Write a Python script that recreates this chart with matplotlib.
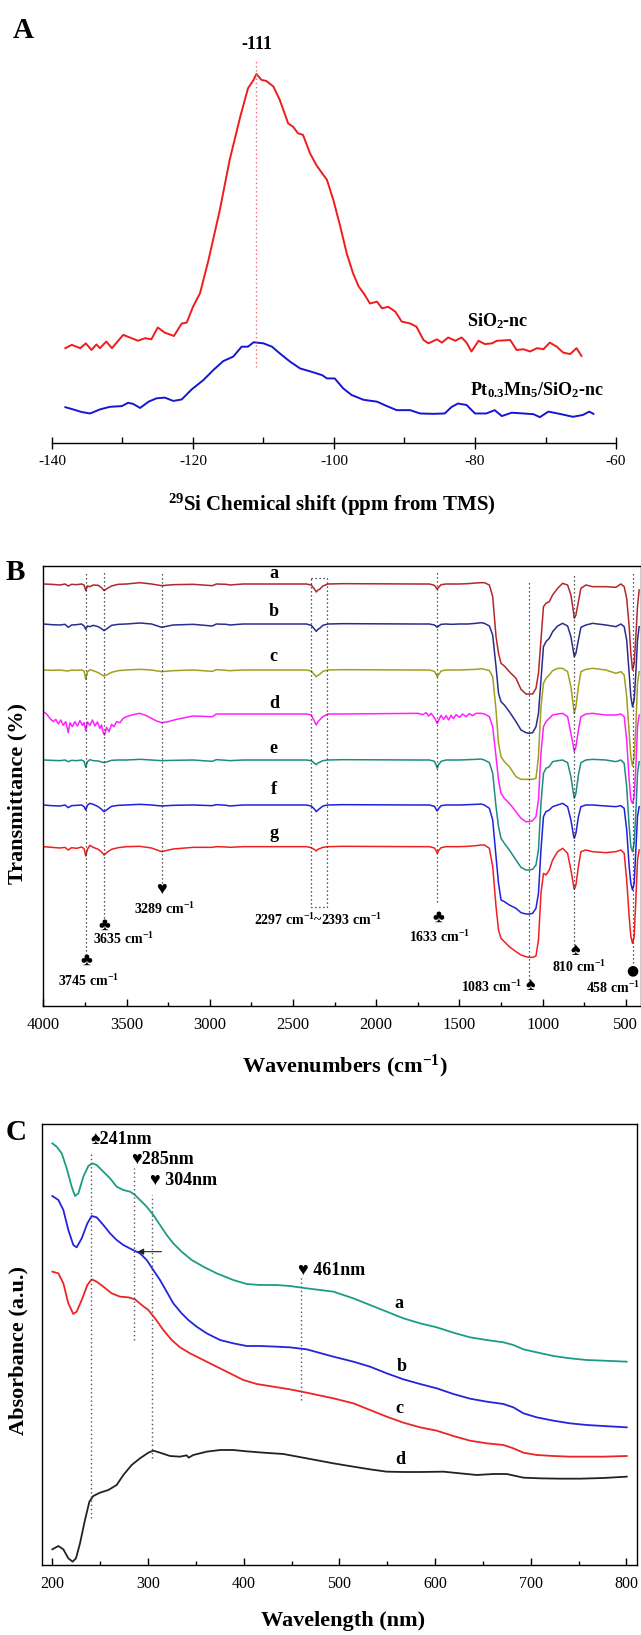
import matplotlib.pyplot as plt
from matplotlib.ticker import MultipleLocator

plt.rcParams['font.family'] = ['Liberation Serif', 'DejaVu Sans']
plt.rcParams['mathtext.fontset'] = 'custom'
plt.rcParams['mathtext.rm'] = 'Liberation Serif:bold'
plt.rcParams['mathtext.it'] = 'Liberation Serif:italic:bold'
plt.rcParams['mathtext.bf'] = 'Liberation Serif:bold'
plt.rcParams['axes.unicode_minus'] = False

# ---- panel A: 29Si NMR ----
nmr_red_ppm = [-138.1, -137.2, -136.0, -135.2, -134.4, -133.7, -133.2, -132.3, -131.5, -129.9,
               -128.7, -127.8, -126.8, -125.9, -125.0, -124.0, -122.7, -121.6, -120.9, -120.0,
               -119.0, -117.8, -116.2, -114.8, -113.3, -112.2, -111.4, -111.0, -110.3, -109.6,
               -108.6, -107.7, -106.5, -105.8, -105.1, -104.4, -103.4, -102.5, -101.5,
               -101.0, -100.1, -99.1, -98.2, -97.3, -96.5, -95.8, -94.9, -93.9, -93.2,
               -92.3, -91.3, -90.4, -89.2, -88.3, -87.3, -86.6, -85.4, -84.7, -83.8,
               -82.8, -81.9, -81.2, -80.5, -79.5, -78.6, -77.6, -76.9, -75.0, -74.1,
               -73.1, -72.2, -71.2, -70.3, -69.4, -68.4, -67.5, -66.5, -65.6, -64.9]
nmr_red = [25.7, 26.6, 25.7, 27.0, 25.2, 26.7, 25.7, 27.5, 25.7, 29.3,
           28.4, 27.7, 28.4, 28.1, 31.3, 29.9, 29.0, 32.4, 32.6, 36.9,
           40.6, 49.6, 63.1, 76.7, 88.4, 96.1, 98.4, 100.0, 98.4, 98.1,
           96.6, 93.0, 86.6, 85.7, 83.9, 83.5, 78.5, 75.3, 72.6,
           71.3, 65.9, 58.6, 51.4, 46.0, 42.4, 40.6, 37.8, 38.3, 36.5,
           36.9, 35.6, 32.9, 32.4, 31.5, 27.9, 27.0, 28.1, 27.2, 28.6,
           27.7, 28.6, 27.2, 24.8, 27.7, 26.8, 27.0, 27.7, 27.9, 25.2,
           25.4, 24.8, 25.7, 25.4, 27.2, 26.1, 24.5, 24.1, 25.7, 23.6]
nmr_blue_ppm = [-138.1, -137.0, -135.8, -134.6, -133.2, -131.8, -130.1, -129.2, -128.5, -127.5,
                -126.3, -125.2, -124.0, -122.8, -121.6, -120.2, -118.5, -117.1, -115.7, -114.3,
                -113.1, -112.2, -111.4, -110.0, -108.8, -107.7, -106.2, -104.8, -103.2, -101.7,
                -101.0, -99.9, -98.7, -97.5, -95.8, -93.9, -92.5, -91.1, -89.2, -87.8,
                -85.9, -84.3, -83.3, -82.4, -81.2, -80.0, -78.4, -77.2, -76.2, -74.8,
                -73.1, -71.7, -70.8, -69.6, -68.0, -66.1, -64.7, -63.8, -63.2]
nmr_blue = [9.7, 9.1, 8.4, 8.0, 9.1, 9.8, 10.0, 10.9, 10.6, 9.5,
            11.2, 12.1, 12.3, 11.4, 11.8, 14.5, 17.1, 19.8, 22.2, 23.4,
            26.1, 26.1, 27.3, 27.0, 26.1, 24.3, 22.0, 20.2, 19.3, 18.4,
            17.5, 17.5, 14.8, 13.0, 11.7, 11.2, 10.0, 8.9, 8.9, 8.0,
            7.9, 8.0, 9.8, 10.7, 10.3, 8.0, 8.0, 8.9, 7.3, 8.2,
            8.0, 7.8, 7.0, 8.5, 7.9, 7.1, 7.6, 8.5, 7.9]

# ---- panel B: FTIR (a.u., curves already stacked) ----
ir_wn_hi = [4000, 3950, 3900, 3870, 3850, 3830, 3800, 3770, 3755, 3745,
            3735, 3720, 3700, 3670, 3650, 3635, 3615, 3590, 3550, 3500,
            3420, 3350, 3289, 3220, 3100, 2985, 2960, 2900, 2880, 2800,
            2420, 2390, 2370, 2360, 2350, 2340, 2320, 2290, 2200, 1750,
            1680, 1650, 1640, 1633, 1625, 1610, 1580, 1550, 1500, 1450,
            1400, 1370]
ir_wn_fp = [1350, 1320, 1300, 1280, 1265, 1250, 1230, 1200, 1160, 1130,
            1100, 1080, 1060, 1040, 1025, 1010, 995, 980, 960, 940,
            910, 880, 850, 830, 815, 810, 800, 785, 770, 740,
            700, 620, 560, 530, 510, 495, 480, 470, 460, 450,
            440, 430, 420]
# curve d is noisier, so it gets a finer grid above 1350 cm-1
ir_d_wn_hi = [4000, 3980, 3960, 3940, 3925, 3910, 3895, 3880, 3865, 3850,
              3840, 3825, 3810, 3795, 3780, 3765, 3755, 3745, 3735, 3720,
              3705, 3690, 3675, 3660, 3650, 3640, 3632, 3620, 3605, 3590,
              3575, 3560, 3540, 3520, 3500, 3460, 3420, 3380, 3350, 3320,
              3289, 3250, 3200, 3100, 2985, 2960, 2900, 2800, 2420, 2390,
              2370, 2360, 2350, 2340, 2320, 2290, 2200, 1750, 1720, 1700,
              1685, 1670, 1655, 1645, 1633, 1622, 1610, 1595, 1580, 1565,
              1550, 1535, 1520, 1500, 1480, 1460, 1440, 1420, 1400, 1370]

ir_a_hi = [126.6, 126.5, 126.3, 126.6, 126.0, 126.5, 126.4, 126.6, 126.3, 124.6,
           126.0, 125.8, 126.3, 126.2, 125.5, 124.6, 125.3, 126.0, 126.5, 126.6,
           127.0, 126.6, 126.1, 126.4, 126.5, 126.1, 126.6, 126.5, 126.3, 126.6,
           126.6, 126.3, 125.0, 124.2, 124.8, 125.0, 126.0, 126.6, 126.7, 126.6,
           126.6, 126.2, 125.5, 125.0, 125.6, 126.4, 126.6, 126.6, 126.6, 126.7,
           126.9, 127.0]
ir_a_fp = [127.0, 126.3, 122.8, 110.8, 105.8, 102.8, 102.0, 100.3, 98.3, 95.0,
           93.6, 93.6, 93.6, 95.3, 99.8, 109.8, 119.8, 120.8, 121.3, 123.3,
           125.3, 126.8, 126.3, 123.3, 118.3, 116.3, 117.3, 121.3, 125.3, 126.3,
           125.8, 125.8, 125.6, 126.6, 125.8, 122.3, 113.8, 105.8, 100.8, 102.8,
           110.8, 119.8, 124.8]
ir_b_hi = [114.6, 114.4, 114.3, 114.5, 113.6, 114.3, 114.4, 114.6, 114.0, 113.0,
           114.0, 113.8, 114.2, 113.8, 113.2, 112.6, 113.3, 114.2, 114.5, 114.6,
           114.9, 114.6, 113.6, 114.3, 114.5, 114.0, 114.6, 114.5, 114.3, 114.6,
           114.6, 114.2, 113.0, 112.4, 113.0, 113.3, 114.2, 114.6, 114.7, 114.6,
           114.6, 114.3, 113.9, 113.6, 114.0, 114.5, 114.6, 114.5, 114.6, 114.6,
           114.8, 115.0]
ir_b_fp = [114.8, 114.0, 111.3, 101.8, 93.8, 91.3, 90.3, 88.3, 85.3, 82.8,
           82.0, 81.8, 82.0, 83.8, 87.8, 97.8, 107.8, 109.3, 110.3, 112.3,
           114.0, 114.8, 114.0, 110.8, 106.3, 104.8, 105.8, 109.8, 113.6, 114.3,
           114.8, 114.3, 113.8, 114.6, 113.8, 109.8, 99.8, 92.8, 89.8, 91.8,
           99.8, 109.8, 113.8]
ir_c_hi = [100.8, 100.7, 100.8, 100.6, 100.5, 100.8, 100.7, 100.8, 100.5, 98.0,
           100.2, 100.9, 100.6, 100.0, 99.4, 99.0, 99.4, 100.1, 100.6, 100.8,
           101.0, 100.8, 100.3, 100.6, 100.8, 100.4, 100.9, 100.7, 100.6, 100.8,
           100.8, 100.5, 99.3, 98.8, 99.2, 99.5, 100.4, 100.8, 100.9, 100.8,
           100.8, 100.4, 99.5, 98.8, 99.4, 100.5, 100.8, 100.8, 100.8, 100.9,
           101.0, 101.2]
ir_c_fp = [101.0, 100.6, 98.8, 88.8, 78.8, 74.8, 73.3, 71.8, 68.8, 68.0,
           68.0, 68.0, 68.0, 68.3, 74.8, 89.8, 96.8, 98.3, 99.3, 100.6,
           101.3, 101.3, 100.3, 95.8, 89.8, 87.8, 89.8, 95.8, 100.3, 101.0,
           101.3, 100.8, 99.8, 100.3, 99.3, 92.8, 81.8, 74.8, 72.0, 74.8,
           83.8, 96.8, 100.3]
ir_d_hi = [88.3, 87.6, 86.3, 85.3, 86.0, 84.6, 85.8, 84.2, 85.3, 82.0,
           85.0, 83.8, 85.3, 84.0, 85.6, 84.2, 85.0, 82.6, 85.2, 84.2,
           85.8, 84.0, 85.2, 83.3, 84.3, 82.0, 81.3, 83.6, 82.3, 84.5,
           83.8, 85.3, 85.0, 86.3, 86.8, 87.4, 87.8, 87.1, 86.3, 85.5,
           85.0, 85.3, 86.0, 87.0, 86.8, 87.6, 87.6, 87.6, 87.6, 87.3,
           85.3, 84.3, 85.3, 85.8, 86.8, 87.6, 87.6, 87.8, 87.4, 88.0,
           87.0, 87.8, 86.8, 86.0, 84.8, 86.0, 87.2, 86.0, 87.1, 85.8,
           87.2, 86.2, 87.4, 86.6, 87.6, 86.8, 87.7, 87.1, 87.8, 87.8]
ir_d_fp = [87.6, 86.8, 83.8, 74.8, 67.8, 63.8, 62.3, 60.8, 58.3, 56.3,
           55.3, 55.3, 55.6, 56.8, 61.8, 75.8, 83.8, 85.3, 86.3, 87.3,
           87.6, 87.8, 86.8, 81.8, 77.8, 76.3, 77.8, 82.8, 86.8, 87.6,
           87.8, 87.3, 87.3, 87.6, 86.8, 79.8, 67.8, 61.8, 60.8, 62.8,
           71.8, 83.8, 87.3]
ir_e_hi = [73.8, 73.7, 73.6, 73.8, 73.3, 73.7, 73.6, 73.8, 73.4, 71.6,
           73.3, 73.9, 73.6, 73.5, 73.2, 73.0, 73.3, 73.7, 73.8, 73.8,
           74.0, 73.8, 73.6, 73.7, 73.8, 73.4, 73.9, 73.7, 73.6, 73.8,
           73.8, 73.6, 72.8, 72.4, 72.9, 73.1, 73.6, 73.8, 73.9, 73.8,
           73.8, 73.4, 72.3, 71.3, 72.4, 73.4, 73.8, 73.8, 73.8, 73.9,
           74.0, 74.1]
ir_e_fp = [73.8, 73.0, 69.8, 59.8, 53.8, 50.3, 48.8, 46.8, 43.8, 41.6,
           40.8, 40.8, 41.0, 42.3, 46.8, 60.8, 69.8, 71.3, 71.8, 73.3,
           73.6, 73.8, 73.0, 68.8, 63.8, 62.3, 63.8, 69.3, 73.0, 73.8,
           74.0, 73.8, 73.3, 73.8, 72.8, 65.8, 53.8, 47.8, 46.3, 48.8,
           57.8, 69.8, 73.3]
ir_f_hi = [60.3, 60.1, 60.0, 60.3, 59.5, 60.1, 60.2, 60.3, 59.8, 58.8,
           60.2, 60.8, 60.5, 59.8, 59.0, 58.3, 59.0, 59.9, 60.2, 60.3,
           60.5, 60.3, 60.0, 60.2, 60.3, 60.1, 60.4, 60.2, 60.0, 60.3,
           60.3, 60.0, 59.0, 58.3, 58.8, 59.2, 60.0, 60.3, 60.4, 60.3,
           60.3, 59.9, 59.0, 58.5, 59.2, 60.1, 60.3, 60.3, 60.3, 60.4,
           60.5, 60.6]
ir_f_fp = [60.3, 59.3, 55.8, 44.8, 36.8, 31.8, 31.3, 30.3, 29.3, 28.0,
           27.6, 27.6, 27.8, 29.3, 33.8, 46.8, 56.8, 58.3, 58.8, 59.8,
           60.3, 60.8, 59.8, 55.8, 51.3, 50.3, 51.8, 56.8, 59.8, 60.3,
           60.3, 60.0, 59.8, 60.1, 59.3, 52.8, 41.8, 36.8, 34.8, 36.8,
           46.8, 56.8, 59.8]
ir_g_hi = [47.8, 47.6, 47.4, 47.6, 46.8, 47.5, 47.3, 47.7, 47.2, 45.0,
           47.0, 48.2, 47.6, 47.0, 46.2, 45.3, 46.2, 47.0, 47.5, 47.8,
           47.9, 47.4, 46.3, 47.1, 47.6, 47.6, 47.8, 47.7, 47.6, 47.8,
           47.8, 47.5, 46.9, 46.5, 47.0, 47.2, 47.6, 47.8, 47.9, 47.8,
           47.8, 47.4, 46.6, 45.8, 46.6, 47.5, 47.8, 47.8, 47.8, 47.9,
           48.1, 48.3]
ir_g_fp = [48.3, 47.3, 41.8, 29.8, 22.8, 20.3, 19.3, 17.8, 16.3, 15.3,
           14.8, 14.6, 14.6, 15.0, 19.8, 33.8, 39.8, 39.3, 40.8, 43.8,
           46.3, 47.3, 45.8, 40.8, 36.3, 35.0, 36.3, 41.8, 46.3, 46.8,
           46.3, 46.0, 46.3, 46.8, 45.8, 37.8, 26.8, 20.8, 18.8, 20.8,
           31.8, 43.8, 46.8]
ir_names = ['a', 'b', 'c', 'd', 'e', 'f', 'g']
ir_colors = ['#b0282c', '#2b2b90', '#a0a020', '#ff20ff', '#1e8c80', '#2020e0', '#f02020']
ir_label_y = [129.8, 118.3, 104.8, 90.8, 77.3, 64.8, 51.8]

# ---- panel C: UV-vis ----
uv_a_wl = [200, 204.5, 209.8, 215, 220.2, 223.7, 227.2, 232.4, 237.6, 241.8,
           246.3, 253.3, 260.3, 267.2, 274.2, 281.2, 286.4, 291.6, 298.6, 305.5,
           312.5, 319.5, 326.4, 335.1, 345.6, 357.8, 371.7, 389.1, 403.1, 417.0,
           434.4, 448.3, 465.8, 493.7, 514.6, 532.0, 549.5, 566.9, 584.3, 601.7,
           619.1, 636.5, 654.0, 671.4, 681.8, 692.3, 706.2, 723.6, 741.0, 758.5,
           775.9, 800.3]
uv_a = [126.5, 125.5, 123.5, 119.0, 113.5, 110.7, 111.5, 116.5, 119.7, 120.5,
        120.0, 118.0, 116.0, 113.5, 112.5, 112.0, 111.0, 109.5, 107.5, 105.0,
        102.0, 99.0, 96.5, 94.0, 91.5, 89.5, 87.5, 85.5, 84.3, 84.0,
        84.0, 83.7, 83.0, 82.0, 80.0, 78.0, 76.0, 74.0, 72.5, 71.3,
        69.7, 68.3, 67.5, 66.8, 66.0, 64.7, 63.8, 62.7, 62.0, 61.5,
        61.3, 61.0]
uv_b_wl = [200, 206.3, 211.5, 216.7, 221.9, 225.4, 230.7, 236.6, 241.1, 246.3,
           253.3, 260.3, 267.2, 274.2, 282.9, 291.6, 298.6, 305.5, 312.5, 319.5,
           326.4, 335.1, 342.1, 350.8, 361.3, 375.2, 389.1, 403.1, 417.0, 434.4,
           448.3, 465.8, 493.7, 514.6, 532.0, 549.5, 566.9, 584.3, 601.7, 619.1,
           636.5, 654.0, 671.4, 681.8, 692.3, 706.2, 723.6, 741.0, 758.5, 775.9,
           800.3]
uv_b = [110.7, 109.5, 106.5, 100.5, 96.0, 95.3, 98.0, 102.5, 104.7, 104.3,
        102.0, 99.5, 97.5, 96.0, 94.7, 93.5, 91.5, 88.5, 85.5, 82.0,
        78.5, 75.5, 73.5, 71.5, 69.5, 67.5, 66.5, 65.7, 65.7, 65.5,
        65.3, 64.7, 62.5, 61.0, 59.5, 57.5, 55.7, 54.3, 53.0, 51.3,
        49.9, 49.0, 48.3, 47.3, 45.5, 44.3, 43.3, 42.5, 42.0, 41.7,
        41.3]
uv_c_wl = [200, 206.3, 211.5, 216.7, 221.9, 225.4, 230.7, 236.6, 241.1, 246.3,
           253.3, 262.0, 270.7, 279.4, 286.4, 293.3, 300.3, 307.3, 316.0, 324.7,
           333.4, 343.9, 357.8, 371.7, 385.7, 399.6, 413.5, 430.9, 448.3, 465.8,
           493.7, 514.6, 532.0, 549.5, 566.9, 584.3, 601.7, 619.1, 636.5, 654.0,
           671.4, 681.8, 692.3, 706.2, 723.6, 741.0, 758.5, 775.9, 800.3]
uv_c = [88.0, 87.5, 84.5, 78.5, 75.3, 76.0, 79.5, 84.0, 85.7, 85.0,
        83.5, 81.5, 80.5, 80.3, 79.7, 78.0, 76.5, 74.0, 70.5, 67.5,
        65.3, 63.5, 61.5, 59.5, 57.5, 55.5, 54.3, 53.5, 52.7, 51.7,
        50.0, 48.5, 46.5, 44.5, 42.7, 41.3, 40.3, 38.7, 37.3, 36.5,
        36.0, 35.0, 33.7, 33.0, 32.7, 32.5, 32.5, 32.5, 32.7]
uv_d_wl = [200, 206.3, 211.5, 216.7, 221.2, 224.7, 228.9, 234.1, 238.7, 242.8,
           249.8, 258.5, 267.2, 274.2, 282.9, 291.6, 300.3, 305.5, 312.5, 323.0,
           333.4, 340.4, 342.5, 347.3, 361.3, 375.2, 389.1, 403.1, 420.5, 441.4,
           465.8, 493.7, 514.6, 532.0, 549.5, 566.9, 584.3, 608.7, 626.1, 643.5,
           660.9, 674.9, 692.3, 709.7, 730.6, 751.5, 775.9, 800.3]
uv_d = [4.7, 5.7, 4.7, 2.0, 1.0, 2.0, 6.5, 13.5, 19.0, 20.7,
        21.7, 22.5, 24.0, 27.0, 30.0, 32.0, 33.7, 34.3, 33.7, 32.7,
        32.5, 32.9, 32.2, 33.0, 34.0, 34.5, 34.5, 34.1, 33.7, 33.3,
        32.0, 30.5, 29.5, 28.7, 28.0, 27.9, 27.9, 28.0, 27.5, 27.0,
        27.3, 27.3, 26.2, 26.0, 25.9, 25.9, 26.1, 26.5]
uv_colors = ['#1a9c86', '#2424dc', '#ee2424', '#222222']
uv_names = ['a', 'b', 'c', 'd']
uv_label_pos = [(562, 78.5), (565, 59.5), (563, 47.0), (564, 31.7)]

W, H = 641, 1635
fig = plt.figure(figsize=(W / 100, H / 100), dpi=100)


def rect(x0, y0, x1, y1):
    # pixel box (top-left origin) -> figure fraction
    return [x0 / W, 1 - y1 / H, (x1 - x0) / W, (y1 - y0) / H]


def ftext(x, y, s, **kw):
    fig.text(x / W, 1 - y / H, s, ha='center', va='center', **kw)


# ================= A =================
axA = fig.add_axes(rect(52, 40, 616, 443))
axA.plot(nmr_red_ppm, nmr_red, color='#f01c1c', lw=1.4)
axA.plot(nmr_blue_ppm, nmr_blue, color='#1616d2', lw=1.4)
axA.plot([-111, -111], [20.6, 103.8], color='#e8707a', lw=1.0, ls=(0, (1, 2)))
axA.text(-111, 107.9, '-111', ha='center', va='center', fontsize=13, fontweight='bold', clip_on=False)
axA.text(-81.2, 32.9, 'SiO$_2$-nc', ha='left', va='center', fontsize=13, fontweight='bold')
axA.text(-80.7, 14.4, 'Pt$_{0.3}$Mn$_5$/SiO$_2$-nc', ha='left', va='center', fontsize=13, fontweight='bold')
axA.set_xlim(-140, -60)
axA.set_ylim(0, 109.2)
for s in ['left', 'right', 'top']:
    axA.spines[s].set_visible(False)
axA.spines['bottom'].set_linewidth(1.0)
axA.set_yticks([])
axA.set_xticks([-140, -120, -100, -80, -60])
axA.xaxis.set_minor_locator(MultipleLocator(10))
axA.tick_params(axis='x', which='major', direction='inout', length=9, width=1, labelsize=11, pad=4)
axA.tick_params(axis='x', which='minor', direction='in', length=4, width=1)
ftext(332, 505, '$^{29}$Si Chemical shift (ppm from TMS)', fontsize=15, fontweight='bold')
ftext(23, 30, 'A', fontsize=21, fontweight='bold')

# ================= B =================
axB = fig.add_axes(rect(43.3, 566, 640.5, 1006))
ir_x = [ir_wn_hi + ir_wn_fp] * 3 + [ir_d_wn_hi + ir_wn_fp] + [ir_wn_hi + ir_wn_fp] * 3
ir_curves = [ir_a_hi + ir_a_fp, ir_b_hi + ir_b_fp, ir_c_hi + ir_c_fp, ir_d_hi + ir_d_fp,
             ir_e_hi + ir_e_fp, ir_f_hi + ir_f_fp, ir_g_hi + ir_g_fp]
for name, col, xs, ys, ly in zip(ir_names, ir_colors, ir_x, ir_curves, ir_label_y):
    axB.plot(xs, ys, color=col, lw=1.1)
    axB.text(2615, ly, name, ha='center', va='center', fontsize=13, fontweight='bold')

dots = dict(color='#222222', lw=0.9, ls=(0, (1, 2.2)))
for x, y0, y1 in [(3745, 15.3, 130.3), (3635, 26.3, 130.3), (3289, 36.8, 130.3),
                  (1633, 31.3, 130.3), (1083, 7.8, 127.3), (810, 18.3, 129.8), (458, 12.8, 129.8)]:
    axB.plot([x, x], [y0, y1], **dots)
axB.plot([2393, 2297, 2297, 2393, 2393], [128.3, 128.3, 29.8, 29.8, 128.3], **dots)

akw = dict(ha='center', va='center', fontsize=10, fontweight='bold')
skw = dict(ha='center', va='center', fontsize=13)
axB.text(3289, 35.0, '\u2665', **skw)
axB.text(3270, 29.0, '3289 cm$^{-1}$', **akw)
axB.text(3630, 24.3, '\u2663', **skw)
axB.text(3520, 20.0, '3635 cm$^{-1}$', **akw)
axB.text(3744, 13.6, '\u2663', **skw)
axB.text(3730, 7.6, '3745 cm$^{-1}$', **akw)
axB.text(2349, 25.8, '2297 cm$^{-1}$~2393 cm$^{-1}$', **akw)
axB.text(1625, 26.6, '\u2663', **skw)
axB.text(1619, 20.8, '1633 cm$^{-1}$', **akw)
axB.text(805, 16.8, '\u2660', **skw)
axB.text(779, 11.8, '810 cm$^{-1}$', **akw)
axB.text(459, 10.8, '\u25cf', ha='center', va='center', fontsize=10, family='DejaVu Sans')
axB.text(579, 5.3, '458 cm$^{-1}$', **akw)
axB.text(1309, 5.6, '1083 cm$^{-1}$', **akw)
axB.text(1073, 6.3, '\u2660', **skw)

axB.set_xlim(4000, 412)
axB.set_ylim(0, 132)
axB.set_yticks([])
axB.set_xticks([4000, 3500, 3000, 2500, 2000, 1500, 1000, 500])
axB.xaxis.set_minor_locator(MultipleLocator(250))
axB.tick_params(axis='x', which='major', direction='in', length=5, width=1, labelsize=12, pad=8)
axB.tick_params(axis='x', which='minor', direction='in', length=3, width=1)
for s in axB.spines.values():
    s.set_linewidth(1.0)
ftext(345, 1066, 'Wavenumbers (cm$^{-1}$)', fontsize=16, fontweight='bold')
ftext(17, 793, 'Transmittance (%)', fontsize=16, fontweight='bold', rotation=90)
ftext(15, 572, 'B', fontsize=21, fontweight='bold')

# ================= C =================
axC = fig.add_axes(rect(42.3, 1124, 636.7, 1565))
for wl, ys, col in zip([uv_a_wl, uv_b_wl, uv_c_wl, uv_d_wl], [uv_a, uv_b, uv_c, uv_d], uv_colors):
    axC.plot(wl, ys, color=col, lw=1.3)
for name, (lx, ly) in zip(uv_names, uv_label_pos):
    axC.text(lx, ly, name, ha='center', va='center', fontsize=13, fontweight='bold')

cdots = dict(color='#555566', lw=1.0, ls=(0, (1, 2)))
for x, y0, y1 in [(240, 14.0, 123.5), (285.3, 67.5, 119.0), (303.8, 32.0, 111.0), (459.8, 49.5, 86.5)]:
    axC.plot([x, x], [y0, y1], **cdots)
ckw = dict(ha='left', va='center', fontsize=13, fontweight='bold')
axC.text(240, 127.8, '\u2660241nm', **ckw)
axC.text(281.9, 121.7, '\u2665285nm', **ckw)
axC.text(302.1, 115.5, '\u2665 304nm', **ckw)
axC.text(456.4, 88.3, '\u2665 461nm', **ckw)
axC.annotate('', xy=(286, 94.0), xytext=(317, 94.0),
             arrowprops=dict(arrowstyle='-|>', color='#222222', lw=0.8, mutation_scale=9))

axC.set_xlim(189.5, 810.7)
axC.set_ylim(0, 132.3)
axC.set_yticks([])
axC.set_xticks([200, 300, 400, 500, 600, 700, 800])
axC.xaxis.set_minor_locator(MultipleLocator(50))
axC.tick_params(axis='x', which='major', direction='in', length=5, width=1, labelsize=11.5, pad=8)
axC.tick_params(axis='x', which='minor', direction='in', length=3, width=1)
for s in axC.spines.values():
    s.set_linewidth(1.0)
ftext(343, 1621, 'Wavelength (nm)', fontsize=16, fontweight='bold')
ftext(18, 1350, 'Absorbance (a.u.)', fontsize=16, fontweight='bold', rotation=90)
ftext(16, 1132, 'C', fontsize=21, fontweight='bold')

fig.savefig('out.png', dpi=100)
